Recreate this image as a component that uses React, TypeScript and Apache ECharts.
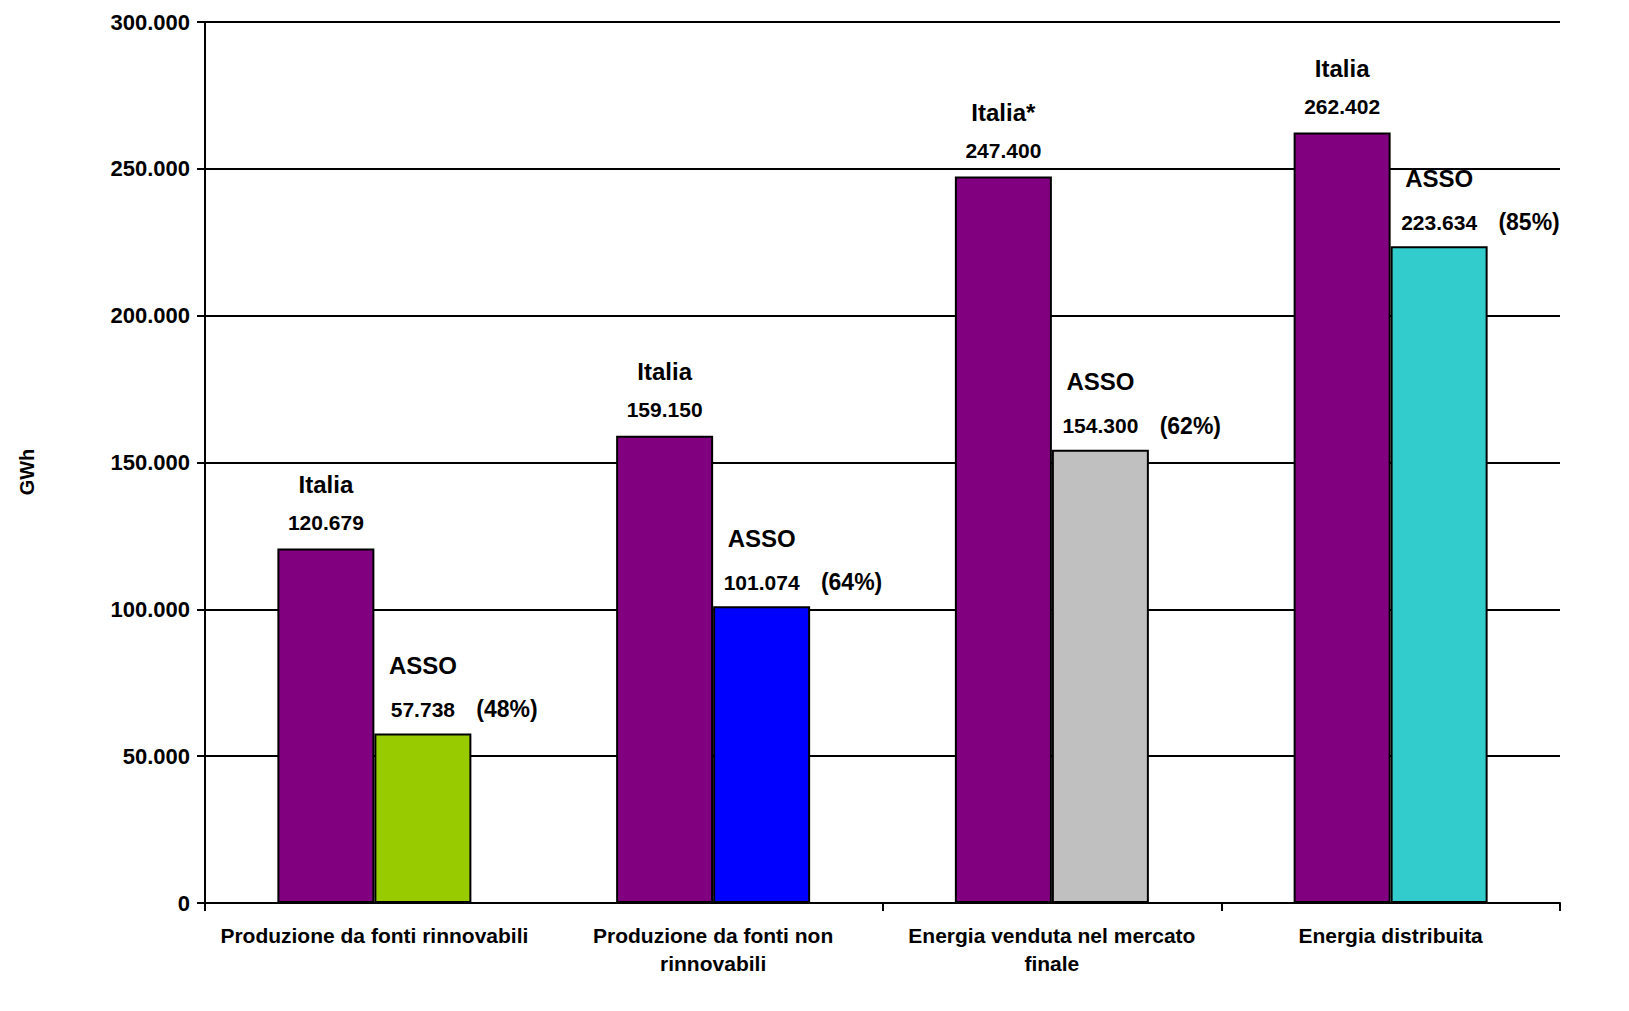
import React, { useEffect, useRef } from "react";
import * as echarts from "echarts";

const categories = [
  "Produzione da fonti rinnovabili",
  "Produzione da fonti non\nrinnovabili",
  "Energia venduta nel mercato\nfinale",
  "Energia distribuita",
];
const italiaNames = ["Italia", "Italia", "Italia*", "Italia"];
const italiaValues = [120679, 159150, 247400, 262402];
const assoValues = [57738, 101074, 154300, 223634];
const assoPct = ["(48%)", "(64%)", "(62%)", "(85%)"];
const assoColors = ["#99cc00", "#0000ff", "#c0c0c0", "#33cccc"];
const italiaColor = "#800080";
const yTitle = "GWh";

const fmt = (v: number) => String(Math.round(v)).replace(/\B(?=(\d{3})+(?!\d))/g, ".");

const FONT = "'Liberation Sans', Arial, sans-serif";

export default function App() {
  const ref = useRef<HTMLDivElement>(null);
  useEffect(() => {
    if (!ref.current) return;
    const chart = echarts.init(ref.current, null, { renderer: "svg" });
    chart.setOption({
      animation: false,
      backgroundColor: "#ffffff",
      grid: { left: 205, right: 69, top: 22, bottom: 108 },
      graphic: [
        {
          type: "text",
          x: 27,
          y: 472,
          rotation: Math.PI / 2,
          style: {
            text: yTitle,
            fill: "#000",
            font: `bold 20px ${FONT}`,
            align: "center",
            verticalAlign: "middle",
          },
        },
      ],
      xAxis: {
        type: "category",
        data: categories,
        axisLine: { lineStyle: { color: "#000", width: 2 } },
        axisTick: {
          show: true,
          interval: (i: number) => i !== 1,
          length: 8,
          lineStyle: { color: "#000", width: 2 },
        },
        axisLabel: {
          interval: 0,
          margin: 18,
          color: "#000",
          fontFamily: FONT,
          fontWeight: "bold",
          fontSize: 21,
          lineHeight: 28,
        },
      },
      yAxis: {
        type: "value",
        min: 0,
        max: 300000,
        interval: 50000,
        axisLine: { show: true, lineStyle: { color: "#000", width: 2 } },
        axisTick: { show: true, length: 8, lineStyle: { color: "#000", width: 2 } },
        splitLine: { show: true, lineStyle: { color: "#000", width: 2 } },
        axisLabel: {
          margin: 15,
          color: "#000",
          fontFamily: FONT,
          fontWeight: "bold",
          fontSize: 22,
          formatter: (v: number) => fmt(v),
        },
      },
      series: [
        {
          name: "Italia",
          type: "bar",
          barWidth: 97,
          barGap: "0%",
          data: italiaValues.map((v) => ({ value: v })),
          itemStyle: { color: italiaColor, borderColor: "#000", borderWidth: 2 },
          label: {
            show: true,
            position: "top",
            distance: 11,
            formatter: (p: any) => `{n|${italiaNames[p.dataIndex]}}\n{v|${fmt(p.value)}}`,
            rich: {
              n: { fontFamily: FONT, fontWeight: "bold", fontSize: 24, lineHeight: 46, color: "#000" },
              v: { fontFamily: FONT, fontWeight: "bold", fontSize: 21, lineHeight: 30, color: "#000" },
            },
          },
        },
        {
          name: "ASSO",
          type: "bar",
          barWidth: 97,
          barGap: "0%",
          data: assoValues.map((v, i) => ({ value: v, itemStyle: { color: assoColors[i] } })),
          itemStyle: { borderColor: "#000", borderWidth: 2 },
          label: {
            show: true,
            position: "top",
            distance: 9,
            formatter: (p: any) =>
              `{n|ASSO}\n{pad|}{v|${fmt(p.value)}}{g|}{p|${assoPct[p.dataIndex]}}`,
            rich: {
              n: { fontFamily: FONT, fontWeight: "bold", fontSize: 24, lineHeight: 58, color: "#000" },
              v: { fontFamily: FONT, fontWeight: "bold", fontSize: 21, lineHeight: 30, color: "#000" },
              pad: { width: 88, lineHeight: 30 },
              g: { width: 16, lineHeight: 30 },
              p: { fontFamily: FONT, fontWeight: "bold", fontSize: 23, lineHeight: 30, width: 72, align: "left", color: "#000" },
            },
          },
        },
      ],
    });
    return () => chart.dispose();
  }, []);
  return (
    <div
      ref={ref}
      style={{ position: "absolute", left: 0, top: 0, width: 1629, height: 1011 }}
    />
  );
}
